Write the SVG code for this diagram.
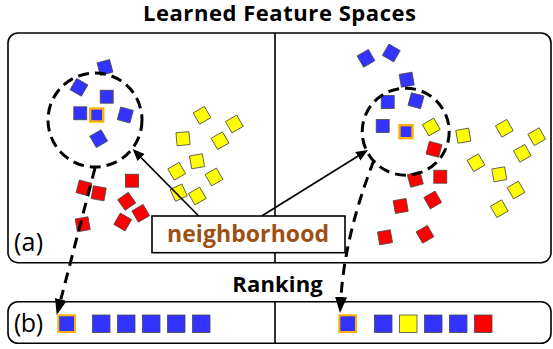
<svg xmlns="http://www.w3.org/2000/svg" width="553" height="349" viewBox="0 0 553 349">
<style>
.panel{fill:none;stroke:#000;stroke-width:1.6}
.div{stroke:#000;stroke-width:1.6}
.b{fill:#3333FF;stroke:#4a4a4a;stroke-width:0.8}
.y{fill:#FFFF00;stroke:#4a4a4a;stroke-width:0.8}
.r{fill:#FF0000;stroke:#4a4a4a;stroke-width:0.8}
.q{fill:#3333FF;stroke:#FFB000;stroke-width:2.4}
.circ{fill:none;stroke:#000;stroke-width:3;stroke-dasharray:11 6}
.dash{fill:none;stroke:#000;stroke-width:3;stroke-dasharray:11 7}
.solid{fill:none;stroke:#000;stroke-width:1.6}
.title{font-family:"Open Sans","Liberation Sans",sans-serif;font-weight:bold;font-size:22px;fill:#000}
.lab{font-family:"Open Sans","Liberation Sans",sans-serif;font-size:25px;fill:#000}
.nb{font-family:"Open Sans","Liberation Sans",sans-serif;font-weight:bold;font-size:23px;fill:#9E5014}
</style>
<defs>
<marker id="bigArrow" viewBox="0 0 16 12" refX="0" refY="6" markerWidth="16" markerHeight="12" markerUnits="userSpaceOnUse" orient="auto">
<path d="M0,0 L16,6 L0,12 z" fill="#000"/>
</marker>
<marker id="smallArrow" viewBox="0 0 12 10" refX="0" refY="5" markerWidth="12" markerHeight="10" markerUnits="userSpaceOnUse" orient="auto">
<path d="M0,0 L12,5 L0,10 z" fill="#000"/>
</marker>
<rect id="s" x="-6.5" y="-6.5" width="13" height="13"/>
</defs>

<g id="title">
<text class="title" x="143" y="21" textLength="273">Learned Feature Spaces</text>
</g>

<g id="panel-a">
<rect class="panel" x="8" y="33" width="543" height="229.7" rx="10"/>
<line class="div" x1="275" y1="33" x2="275" y2="262.7"/>
<text class="lab" x="14" y="251" textLength="29">(a)</text>
</g>

<g id="left-space">
<use href="#s" class="b" transform="translate(105,67.5) rotate(-15)"/>
<use href="#s" class="b" transform="translate(79,87.3) rotate(30)"/>
<use href="#s" class="b" transform="translate(106.7,96.7)"/>
<use href="#s" class="b" transform="translate(80.3,113.3)"/>
<use href="#s" class="q" transform="translate(96.7,115)"/>
<use href="#s" class="b" transform="translate(125.3,115) rotate(15)"/>
<use href="#s" class="b" transform="translate(98.7,138.7) rotate(-30)"/>

<use href="#s" class="y" transform="translate(202,115.3) rotate(-30)"/>
<use href="#s" class="y" transform="translate(234.3,124) rotate(-30)"/>
<use href="#s" class="y" transform="translate(183,138.7) rotate(-5)"/>
<use href="#s" class="y" transform="translate(220,140.7) rotate(-30)"/>
<use href="#s" class="y" transform="translate(197,161.3) rotate(-10)"/>
<use href="#s" class="y" transform="translate(176.7,171.3) rotate(-30)"/>
<use href="#s" class="y" transform="translate(214,177) rotate(-30)"/>
<use href="#s" class="y" transform="translate(178.7,192.7) rotate(-25)"/>
<use href="#s" class="y" transform="translate(197.3,196) rotate(-30)"/>

<use href="#s" class="r" transform="translate(84,188) rotate(15)"/>
<use href="#s" class="r" transform="translate(98.7,193.3) rotate(10)"/>
<use href="#s" class="r" transform="translate(132,180.7)"/>
<use href="#s" class="r" transform="translate(126.7,201.3) rotate(-35)"/>
<use href="#s" class="r" transform="translate(140.7,213.3) rotate(-30)"/>
<use href="#s" class="r" transform="translate(122.7,222) rotate(30)"/>
<use href="#s" class="r" transform="translate(82.7,224.3) rotate(-10)"/>

<circle id="left-neighborhood" class="circ" cx="95" cy="120" r="47"/>
</g>

<g id="right-space">
<use href="#s" class="b" transform="translate(366,58.3) rotate(-30)"/>
<use href="#s" class="b" transform="translate(391.3,53) rotate(30)"/>
<use href="#s" class="b" transform="translate(406.7,79.7) rotate(-10)"/>
<use href="#s" class="b" transform="translate(387.7,102)"/>
<use href="#s" class="b" transform="translate(416,100.7) rotate(15)"/>
<use href="#s" class="b" transform="translate(382.7,126)"/>
<use href="#s" class="q" transform="translate(406,131.7)"/>

<use href="#s" class="y" transform="translate(431.3,127) rotate(-30)"/>
<use href="#s" class="y" transform="translate(463.3,135.7) rotate(-10)"/>
<use href="#s" class="y" transform="translate(504.3,128.3) rotate(-30)"/>
<use href="#s" class="y" transform="translate(536.7,136.7) rotate(-30)"/>
<use href="#s" class="y" transform="translate(522.3,153.3) rotate(-30)"/>
<use href="#s" class="y" transform="translate(476,162.7) rotate(-30)"/>
<use href="#s" class="y" transform="translate(499.3,174.3) rotate(-10)"/>
<use href="#s" class="y" transform="translate(516,190) rotate(-30)"/>
<use href="#s" class="y" transform="translate(499.3,208.7) rotate(-30)"/>

<use href="#s" class="r" transform="translate(434,149.3) rotate(15)"/>
<use href="#s" class="r" transform="translate(440.3,176.7)"/>
<use href="#s" class="r" transform="translate(415.3,179.3) rotate(-15)"/>
<use href="#s" class="r" transform="translate(432.7,200) rotate(-30)"/>
<use href="#s" class="r" transform="translate(400.7,206) rotate(-10)"/>
<use href="#s" class="r" transform="translate(385,237.3) rotate(-10)"/>
<use href="#s" class="r" transform="translate(425,234.3) rotate(-30)"/>

<circle id="right-neighborhood" class="circ" cx="405.7" cy="131.7" r="43.5"/>
</g>

<g id="ranking-title">
<text class="title" x="232.3" y="291.5" textLength="90.4">Ranking</text>
</g>

<g id="panel-b">
<rect class="panel" x="8" y="301.7" width="543" height="41.6" rx="10"/>
<line class="div" x1="275" y1="301.7" x2="275" y2="343.3"/>
<text class="lab" x="14" y="331.5" textLength="29">(b)</text>
</g>

<g id="left-ranking">
<rect class="q" x="58.3" y="315.3" width="16.7" height="16.7" style="stroke-width:2"/>
<rect class="b" x="92.5" y="315" width="17.5" height="17.5"/>
<rect class="b" x="117.5" y="315" width="17.5" height="17.5"/>
<rect class="b" x="142.5" y="315" width="17.5" height="17.5"/>
<rect class="b" x="167.5" y="315" width="17.5" height="17.5"/>
<rect class="b" x="192.5" y="315" width="17.5" height="17.5"/>
</g>

<g id="right-ranking">
<rect class="q" x="339.3" y="315.3" width="16.7" height="16.7" style="stroke-width:2"/>
<rect class="b" x="374.5" y="315" width="17.5" height="17.5"/>
<rect class="y" x="399.5" y="315" width="17.5" height="17.5"/>
<rect class="b" x="424.5" y="315" width="17.5" height="17.5"/>
<rect class="b" x="449.5" y="315" width="17.5" height="17.5"/>
<rect class="r" x="474.5" y="315" width="17.5" height="17.5"/>
</g>

<g id="connectors">
<line class="solid" x1="198.7" y1="216" x2="141.1" y2="157.6" marker-end="url(#smallArrow)"/>
<line class="solid" x1="261.7" y1="216" x2="357.8" y2="156.3" marker-end="url(#smallArrow)"/>
<line class="dash" x1="95" y1="168" x2="60.8" y2="299.5" marker-end="url(#bigArrow)"/>
<path class="dash" d="M374,160 Q345,235 341,297" marker-end="url(#bigArrow)"/>
</g>

<g id="neighborhood">
<rect x="152" y="216" width="193" height="36.7" fill="#fff" stroke="#000" stroke-width="1.6"/>
<text class="nb" x="167" y="242" textLength="162">neighborhood</text>
</g>
</svg>
